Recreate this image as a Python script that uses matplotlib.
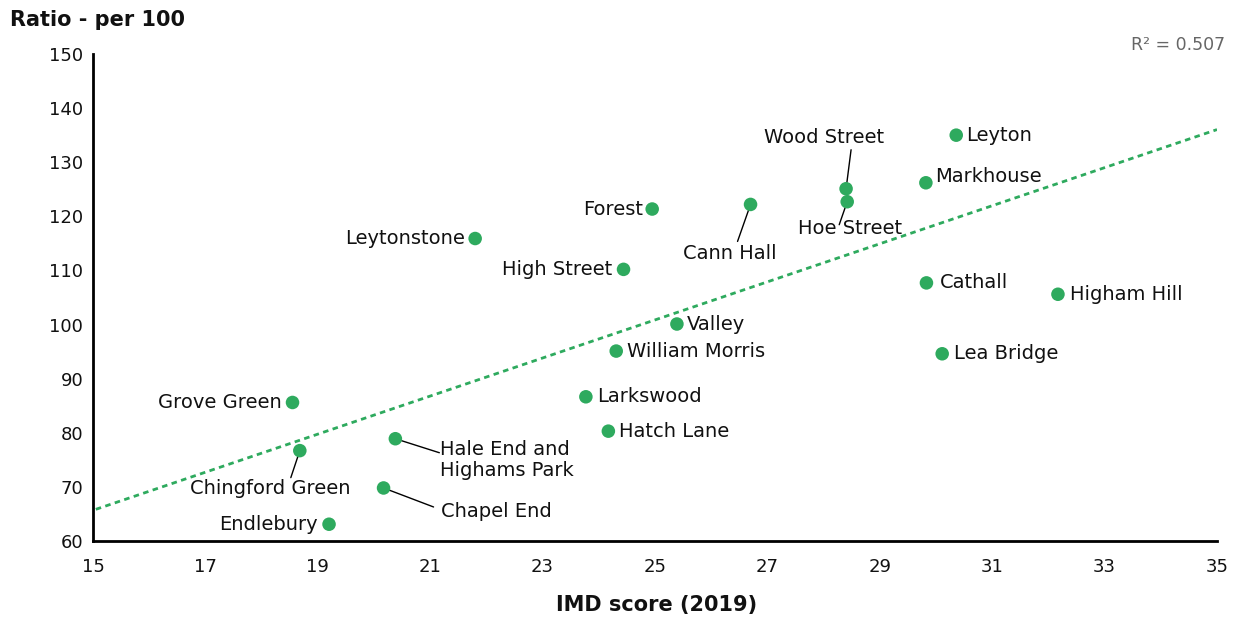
import numpy as np
import matplotlib
matplotlib.use("Agg")
import matplotlib.pyplot as plt

plt.rcParams['font.family'] = ['DejaVu Sans']

wards = ["Leyton", "Wood Street", "Hoe Street", "Markhouse", "Cann Hall", "Forest",
         "Leytonstone", "High Street", "Cathall", "Higham Hill", "Valley",
         "William Morris", "Lea Bridge", "Grove Green", "Larkswood", "Hatch Lane",
         "Hale End and\nHighams Park", "Chingford Green", "Chapel End", "Endlebury"]
imd = [30.36, 28.40, 28.42, 29.82, 26.70, 24.95, 21.80, 24.44, 29.83, 32.17, 25.39,
       24.31, 30.11, 18.55, 23.77, 24.17, 20.38, 18.68, 20.17, 19.20]
ratio = [135.0, 125.1, 122.7, 126.2, 122.2, 121.35, 115.9, 110.2, 107.7, 105.6, 100.1,
         95.1, 94.6, 85.6, 86.65, 80.3, 78.9, 76.7, 69.8, 63.1]
x_ticks = [15, 17, 19, 21, 23, 25, 27, 29, 31, 33, 35]
y_ticks = [60, 70, 80, 90, 100, 110, 120, 130, 140, 150]
r2_text = "R² = 0.507"

# label placement (pixel offsets from point, ha, leader start offset or None)
label_style = {
    "Leyton": ((10, 0), "left", None),
    "Wood Street": ((-22, 51), "center", (5, 39)),
    "Hoe Street": ((3, -27), "center", (-8, -23)),
    "Markhouse": ((9, 6), "left", None),
    "Cann Hall": ((-21, -49), "center", (-13, -37)),
    "Forest": ((-9, 0), "right", None),
    "Leytonstone": ((-10, 0), "right", None),
    "High Street": ((-11, 0), "right", None),
    "Cathall": ((13, 0), "left", None),
    "Higham Hill": ((12, 0), "left", None),
    "Valley": ((10, 0), "left", None),
    "William Morris": ((11, 0), "left", None),
    "Lea Bridge": ((12, 0), "left", None),
    "Grove Green": ((-11, 0), "right", None),
    "Larkswood": ((11, 0), "left", None),
    "Hatch Lane": ((11, 0), "left", None),
    "Hale End and\nHighams Park": ((45, -21), "left", (44, -14)),
    "Chingford Green": ((-30, -38), "center", (-9, -27)),
    "Chapel End": ((57, -24), "left", (50, -19)),
    "Endlebury": ((-11, 0), "right", None),
}

green = "#2EAA5E"
text_col = "#111111"

fig = plt.figure(figsize=(12.47, 6.17), dpi=100)
ax = fig.add_axes([93/1247, 1-541/617, (1217-93)/1247, (541-54)/617])

ax.set_xlim(15, 35)
ax.set_ylim(60, 150)

# trendline (least squares fit)
slope, intercept = np.polyfit(imd, ratio, 1)
xs = np.array([15.05, 35])
ax.plot(xs, slope*xs + intercept, color=green, lw=2.0, ls=(0, (2, 1.6)), zorder=2)

ax.scatter(imd, ratio, s=95, color=green, edgecolors='none', zorder=3)

for name, x, y in zip(wards, imd, ratio):
    off, ha, lead = label_style[name]
    if lead is not None:
        ax.annotate("", xy=(x, y), xytext=lead, textcoords='offset pixels',
                    arrowprops=dict(arrowstyle='-', color='black', lw=1.0,
                                    shrinkA=0, shrinkB=4.5), zorder=2)
    ax.annotate(name, xy=(x, y), xytext=off, textcoords='offset pixels',
                ha=ha, va='center', fontsize=14, color=text_col,
                linespacing=1.15, zorder=4)

for s in ['top', 'right']:
    ax.spines[s].set_visible(False)
for s in ['left', 'bottom']:
    ax.spines[s].set_linewidth(2.0)
    ax.spines[s].set_color('black')

ax.set_xticks(x_ticks)
ax.set_yticks(y_ticks)
ax.tick_params(axis='both', length=0, labelsize=13, labelcolor=text_col)
ax.tick_params(axis='x', pad=12)
ax.tick_params(axis='y', pad=7)

fig.text(10/1247, 1-20/617, "Ratio - per 100", fontsize=15, fontweight='bold',
         color=text_col, ha='left', va='center')
fig.text(657/1247, 1-605/617, "IMD score (2019)", fontsize=15, fontweight='bold',
         color=text_col, ha='center', va='center')
fig.text(1225/1247, 1-45/617, r2_text, fontsize=12.5, color='#666666',
         ha='right', va='center')

fig.savefig("out.png", dpi=100)
